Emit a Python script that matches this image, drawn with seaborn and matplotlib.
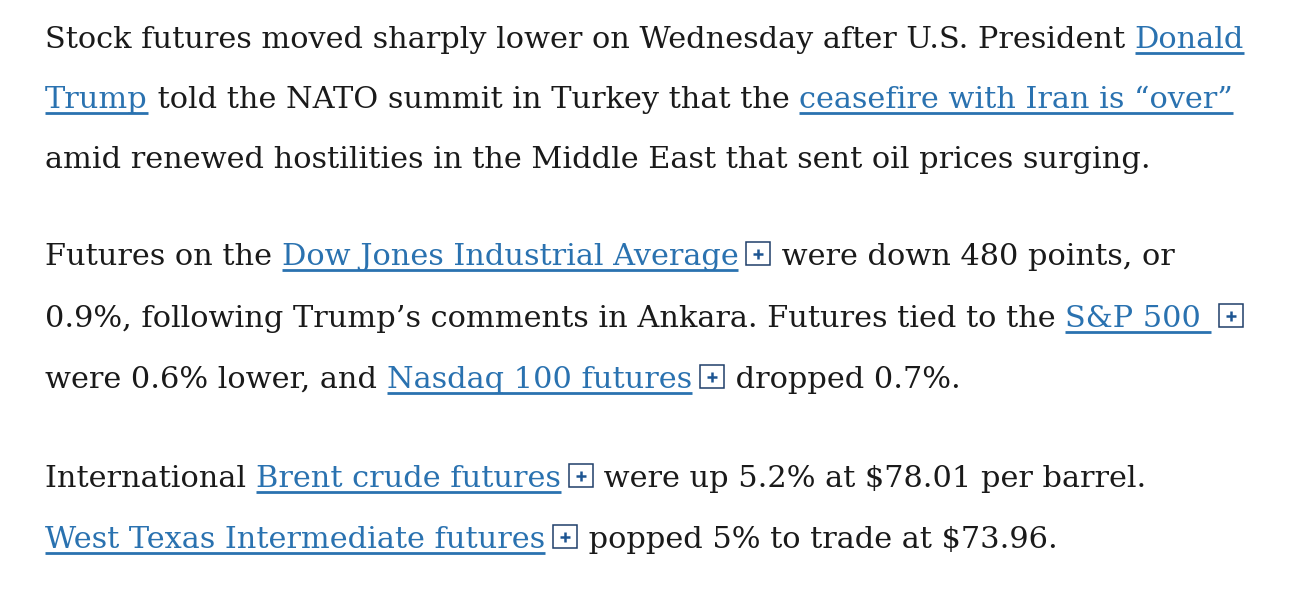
import matplotlib
matplotlib.use("Agg")
import matplotlib.pyplot as plt
import seaborn as sns
from matplotlib.patches import Rectangle
import numpy as np

W, H = 1292, 598

# Text content: each line is a list of (kind, text); "t" = plain, "a" = link, "i" = info box
para1_lines = [
    [("t", "Stock futures moved sharply lower on Wednesday after U.S. President "), ("a", "Donald")],
    [("a", "Trump"), ("t", " told the NATO summit in Turkey that the "), ("a", "ceasefire with Iran is \u201cover\u201d")],
    [("t", "amid renewed hostilities in the Middle East that sent oil prices surging.")],
]
para2_lines = [
    [("t", "Futures on the "), ("a", "Dow Jones Industrial Average"), ("i", ""), ("t", " were down 480 points, or")],
    [("t", "0.9%, following Trump\u2019s comments in Ankara. Futures tied to the "), ("a", "S&P 500 "), ("i", "")],
    [("t", "were 0.6% lower, and "), ("a", "Nasdaq 100 futures"), ("i", ""), ("t", " dropped 0.7%.")],
]
para3_lines = [
    [("t", "International "), ("a", "Brent crude futures"), ("i", ""), ("t", " were up 5.2% at $78.01 per barrel.")],
    [("a", "West Texas Intermediate futures"), ("i", ""), ("t", " popped 5% to trade at $73.96.")],
]

# Layout (pixels)
LEFT = 45
BASELINES = [48, 108, 168, 265, 327, 388, 487, 548]
LINE_ENDS = [1245, 1229, 1133, 1168, 1248, 972, 1143, 1068]
ICON_PRE, ICON_W, ICON_H, ICON_POST = 8, 24, 23, 2

TEXT_COLOR = "#1a1a1a"
LINK_COLOR = "#2a72b0"
ICON_EDGE = "#1f3f6a"
PLUS_COLOR = "#1d5592"

sns.set_theme(style="white")
plt.rcParams["font.family"] = ["DejaVu Serif"]
plt.rcParams["font.stretch"] = "semi-condensed"

fig = plt.figure(figsize=(W / 100, H / 100), dpi=100)
fig.patch.set_facecolor("white")
ax = fig.add_axes([0, 0, 1, 1])
ax.set_xlim(0, W)
ax.set_ylim(H, 0)
ax.axis("off")
renderer = fig.canvas.get_renderer()


def text_width(s, size):
    t = ax.text(0, 100, "|" + s + "|", fontsize=size)
    w1 = t.get_window_extent(renderer).width
    t.set_text("||")
    w0 = t.get_window_extent(renderer).width
    t.remove()
    return w1 - w0


lines = para1_lines + para2_lines + para3_lines

# choose one font size that fits the measured line lengths
base = 20
scales = []
for segs, end in zip(lines, LINE_ENDS):
    tw = sum(text_width(s, base) for k, s in segs if k != "i")
    iw = sum(ICON_PRE + ICON_W + ICON_POST for k, s in segs if k == "i")
    scales.append((end - LEFT - iw) / tw)
size = base * float(np.median(scales))

for segs, y in zip(lines, BASELINES):
    x = LEFT
    for kind, s in segs:
        if kind == "i":
            x += ICON_PRE
            ax.add_patch(Rectangle((x, y - ICON_H), ICON_W, ICON_H, facecolor="white",
                                   edgecolor=ICON_EDGE, lw=1.1))
            cx, cy = x + ICON_W / 2, y - ICON_H / 2
            ax.plot([cx - 5, cx + 5], [cy, cy], color=PLUS_COLOR, lw=1.8, solid_capstyle="butt")
            ax.plot([cx, cx], [cy - 5, cy + 5], color=PLUS_COLOR, lw=1.8, solid_capstyle="butt")
            x += ICON_W + ICON_POST
            continue
        w = text_width(s, size)
        color = LINK_COLOR if kind == "a" else TEXT_COLOR
        ax.text(x, y, s, fontsize=size, color=color, ha="left", va="baseline")
        if kind == "a":
            ax.plot([x, x + w], [y + 5, y + 5], color=LINK_COLOR, lw=2.0, solid_capstyle="butt")
        x += w

fig.savefig("out.png", dpi=100, facecolor="white")
